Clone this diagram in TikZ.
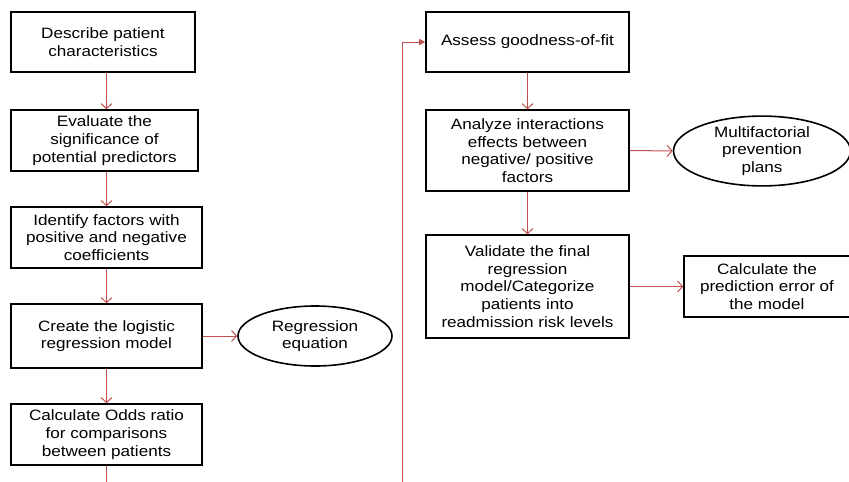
\documentclass[tikz,border=0pt]{standalone}
\usepackage{fontspec}
\setmainfont[FakeStretch=1.14]{Liberation Sans}
\usetikzlibrary{shapes.geometric,arrows.meta}
\definecolor{flowred}{RGB}{192,80,77}
\begin{document}
\begin{tikzpicture}[x=1pt,y=-1pt,
    stepbox/.style={draw,line width=1.6pt,align=center,inner sep=2pt,
        font=\fontsize{15}{17.7}\selectfont},
    outcome/.style={ellipse,draw,line width=1.6pt,align=center,inner sep=0pt,
        font=\fontsize{15}{17.7}\selectfont},
    flow/.style={draw=flowred,line width=1pt,
        -{Straight Barb[length=5pt,width=11pt]}},
    link/.style={draw=flowred,line width=1pt}]
    \useasboundingbox (0,0) rectangle (849,482);

    % Left column
    \node[stepbox,minimum width=184pt,minimum height=60pt] (describe)
        at (103,42) {Describe patient\\characteristics};
    \node[stepbox,minimum width=187pt,minimum height=61pt] (evaluate)
        at (104.5,140.5) {Evaluate the\\significance of\\potential predictors};
    \node[stepbox,minimum width=191pt,minimum height=61pt] (identify)
        at (106.5,237.5) {Identify factors with\\positive and negative\\coefficients};
    \node[stepbox,minimum width=191pt,minimum height=64pt] (create)
        at (106.5,336) {Create the logistic\\regression model};
    \node[stepbox,minimum width=191pt,minimum height=61pt] (odds)
        at (106.5,434.5) {Calculate Odds ratio\\for comparisons\\between patients};
    \node[outcome,minimum width=154pt,minimum height=60pt] (equation)
        at (315,336) {Regression\\equation};
    \coordinate (leftend) at (106.5,482);

    % Right column
    \node[stepbox,minimum width=203pt,minimum height=60pt] (assess)
        at (527.5,42) {Assess goodness-of-fit};
    \node[stepbox,minimum width=203pt,minimum height=81pt] (analyze)
        at (527.5,150.5) {Analyze interactions\\effects between\\negative/ positive\\factors};
    \node[outcome,minimum width=177pt,minimum height=60pt] (plans)
        at (762,151) {Multifactorial\\prevention\\plans};
    \node[stepbox,minimum width=203pt,minimum height=103pt] (validate)
        at (527.5,286.5) {Validate the final\\regression\\model/Categorize\\patients into\\readmission risk levels};
    \node[stepbox,minimum width=166pt,minimum height=61pt] (error)
        at (767,286.5) {Calculate the\\prediction error of\\the model};
    \coordinate (rightend) at (402,482);

    % Connectors left
    \draw[flow] (describe.south -| leftend) -- (evaluate.north -| leftend);
    \draw[flow] (evaluate.south -| leftend) -- (identify.north -| leftend);
    \draw[flow] (identify.south) -- (create.north);
    \draw[flow] (create.south) -- (odds.north);
    \draw[flow] (create.east) -- (equation.west);
    \draw[link] (odds.south) -- (leftend);

    % Connectors right
    \draw[link,-{Triangle[length=6pt,width=6pt]}] (rightend) |- (assess.west);
    \draw[flow] (assess.south) -- (analyze.north);
    \draw[flow] (analyze.east) -- (plans.west);
    \draw[flow] (analyze.south) -- (validate.north);
    \draw[flow] (validate.east) -- (error.west);
\end{tikzpicture}
\end{document}
